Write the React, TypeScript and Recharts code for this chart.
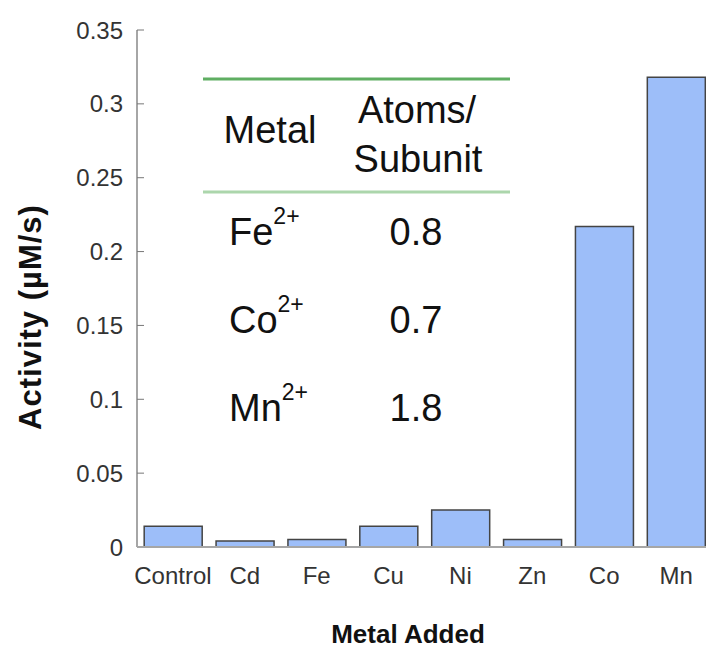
import { BarChart, Bar, XAxis, YAxis } from 'recharts'

const metals = ['Control', 'Cd', 'Fe', 'Cu', 'Ni', 'Zn', 'Co', 'Mn']
const activity = [0.014, 0.004, 0.005, 0.014, 0.025, 0.005, 0.217, 0.318]
const yTicks = [0, 0.05, 0.1, 0.15, 0.2, 0.25, 0.3, 0.35]
// category boundaries, drawn as little tick marks between bars
const boundaryTicks = [1, 2, 3, 4, 5, 6, 7]

const tableMetals = ['Fe', 'Co', 'Mn']
const tableCharge = '2+'
const atomsPerSubunit = ['0.8', '0.7', '1.8']

const data = metals.map((metal, i) => ({ metal, activity: activity[i] }))

const font = '"Liberation Sans", Arial, Helvetica, sans-serif'
const axisGray = '#a6a6a6'

export default function App() {
  return (
    <div style={{ position: 'absolute', left: 0, top: 0, width: 706, height: 651, overflow: 'hidden', background: '#fff', fontFamily: font }}>
      <BarChart width={712} height={651} data={data} margin={{ top: 30, right: 0, bottom: 0, left: 0 }} barCategoryGap="10%">
        <YAxis
          type="number"
          domain={[0, 0.35]}
          ticks={yTicks}
          width={137}
          tickSize={-7}
          tickMargin={21}
          axisLine={{ stroke: axisGray, strokeWidth: 2 }}
          tickLine={{ stroke: '#777' }}
          tick={{ fontSize: 24, fill: '#333', fontFamily: font }}
        />
        <XAxis
          xAxisId="cat"
          dataKey="metal"
          height={104}
          interval={0}
          tickLine={false}
          tickSize={0}
          tickMargin={20}
          axisLine={{ stroke: axisGray, strokeWidth: 2 }}
          tick={{ fontSize: 24, fill: '#333', fontFamily: font }}
        />
        <XAxis
          xAxisId="marks"
          type="number"
          domain={[0, 8]}
          allowDataOverflow
          ticks={boundaryTicks}
          mirror
          tick={false}
          axisLine={false}
          tickSize={5}
          tickLine={{ stroke: '#555' }}
        />
        <Bar xAxisId="cat" dataKey="activity" fill="#9dbef9" stroke="#444" strokeWidth={1.5} isAnimationActive={false} />
      </BarChart>

      <svg width={706} height={651} style={{ position: 'absolute', left: 0, top: 0, pointerEvents: 'none' }} fontFamily={font}>
        <text transform="translate(30,317) rotate(-90)" textAnchor="middle" dominantBaseline="central" fontSize={31} letterSpacing={1} fontWeight="bold" fill="#111">
          Activity (µM/s)
        </text>
        <text x={408} y={643} textAnchor="middle" fontSize={26} fontWeight="bold" fill="#111">
          Metal Added
        </text>

        <line x1={203} x2={510} y1={79} y2={79} stroke="#5fae62" strokeWidth={3} />
        <line x1={203} x2={510} y1={192} y2={192} stroke="#acd6ac" strokeWidth={3} />
        <text x={270} y={143} textAnchor="middle" fontSize={38} fill="#111">Metal</text>
        <text x={417} y={123} textAnchor="middle" fontSize={38} fill="#111">Atoms/</text>
        <text x={418} y={172} textAnchor="middle" fontSize={38} fill="#111">Subunit</text>
        {tableMetals.map((m, i) => (
          <g key={m}>
            <text x={229} y={245 + i * 88} fontSize={38} fill="#111">
              {m}
              <tspan fontSize={23} dy={-21}>{tableCharge}</tspan>
            </text>
            <text x={416} y={245 + i * 88} textAnchor="middle" fontSize={38} fill="#111">
              {atomsPerSubunit[i]}
            </text>
          </g>
        ))}
      </svg>
    </div>
  )
}
